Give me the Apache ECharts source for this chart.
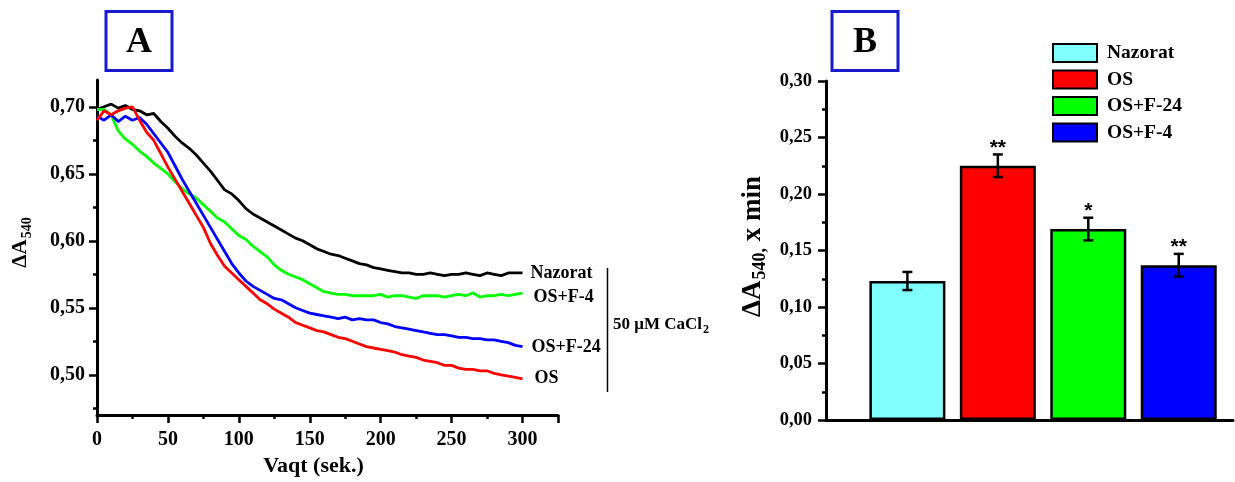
<!DOCTYPE html>
<html>
<head>
<meta charset="utf-8">
<script src="https://cdn.jsdelivr.net/npm/echarts@6/dist/echarts.min.js"></script>
<style>
  html, body { margin: 0; padding: 0; background: #fff; }
  #chart { width: 1235px; height: 482px; }
</style>
</head>
<body>
<div id="chart"></div>
<script>
// --- A panel: kinetika (vaqt, sek.) ---
const vaqt = [0, 5, 10, 15, 20, 25, 30, 35, 40, 45, 50, 55, 60, 65, 70, 75, 80, 85, 90, 95,
  100, 105, 110, 115, 120, 125, 130, 135, 140, 145, 150, 155, 160, 165, 170, 175, 180, 185, 190, 195,
  200, 205, 210, 215, 220, 225, 230, 235, 240, 245, 250, 255, 260, 265, 270, 275, 280, 285, 290, 295, 300]

const nazorat = [0.698, 0.700, 0.702, 0.699, 0.701, 0.698, 0.697, 0.694, 0.695, 0.689, 0.684, 0.678, 0.673, 0.669, 0.664, 0.658, 0.652, 0.645, 0.638, 0.635,
  0.630, 0.624, 0.620, 0.617, 0.614, 0.611, 0.608, 0.605, 0.602, 0.600, 0.597, 0.594, 0.592, 0.590, 0.589, 0.587, 0.585, 0.583, 0.582, 0.580,
  0.579, 0.578, 0.577, 0.576, 0.576, 0.575, 0.575, 0.576, 0.575, 0.574, 0.575, 0.575, 0.576, 0.575, 0.574, 0.576, 0.575, 0.574, 0.576, 0.576, 0.576]

const osA = [0.690, 0.697, 0.694, 0.697, 0.699, 0.700, 0.690, 0.681, 0.675, 0.665, 0.655, 0.646, 0.637, 0.628, 0.619, 0.610, 0.598, 0.589, 0.581, 0.576,
  0.571, 0.566, 0.561, 0.556, 0.553, 0.549, 0.546, 0.543, 0.539, 0.537, 0.535, 0.533, 0.532, 0.530, 0.528, 0.527, 0.525, 0.523, 0.521, 0.520,
  0.519, 0.518, 0.517, 0.515, 0.514, 0.513, 0.511, 0.510, 0.509, 0.507, 0.507, 0.505, 0.504, 0.504, 0.503, 0.503, 0.501, 0.500, 0.499, 0.498, 0.497]

const osF24 = [0.693, 0.690, 0.694, 0.689, 0.693, 0.690, 0.692, 0.687, 0.680, 0.673, 0.666, 0.656, 0.646, 0.637, 0.628, 0.619, 0.610, 0.601, 0.592, 0.583,
  0.576, 0.570, 0.566, 0.563, 0.560, 0.557, 0.556, 0.553, 0.550, 0.548, 0.546, 0.545, 0.544, 0.543, 0.542, 0.543, 0.541, 0.542, 0.541, 0.541,
  0.539, 0.538, 0.536, 0.535, 0.534, 0.533, 0.532, 0.531, 0.530, 0.530, 0.529, 0.528, 0.528, 0.527, 0.527, 0.526, 0.526, 0.525, 0.524, 0.522, 0.521]

const osF4 = [0.698, 0.698, 0.694, 0.682, 0.676, 0.672, 0.667, 0.663, 0.658, 0.654, 0.650, 0.644, 0.639, 0.635, 0.632, 0.627, 0.622, 0.617, 0.614, 0.609,
  0.604, 0.601, 0.596, 0.592, 0.588, 0.582, 0.578, 0.575, 0.573, 0.571, 0.568, 0.565, 0.562, 0.561, 0.560, 0.560, 0.559, 0.559, 0.559, 0.559,
  0.560, 0.558, 0.559, 0.559, 0.558, 0.557, 0.559, 0.559, 0.559, 0.558, 0.559, 0.560, 0.559, 0.561, 0.558, 0.559, 0.559, 0.560, 0.559, 0.560, 0.561]

const yTicksA = [0.50, 0.55, 0.60, 0.65, 0.70]

// --- B panel: ΔA540, x min ---
const guruhlar = ['Nazorat', 'OS', 'OS+F-24', 'OS+F-4']
const barPos = [1, 2, 3, 4]
const barValues = [0.123, 0.225, 0.169, 0.137]
const barErrors = [0.008, 0.010, 0.010, 0.010]
const barStars = ['', '**', '*', '**']
const barColors = ['#80ffff', '#ff0000', '#00ff00', '#0000ff']

const SERIF = 'Liberation Serif'
const comma = v => v.toFixed(2).replace('.', ',')
const pairs = arr => vaqt.map((t, i) => [t, arr[i]])

// egri chiziqlar
const lineDefs = [
  { name: 'A Nazorat', label: 'Nazorat', data: nazorat, color: '#000000', off: [0, 0] },
  { name: 'A OS+F-4', label: 'OS+F-4', data: osF4, color: '#00ff00', off: [3, 4] },
  { name: 'A OS+F-24', label: 'OS+F-24', data: osF24, color: '#0000ff', off: [1, 1] },
  { name: 'A OS', label: 'OS', data: osA, color: '#ff0000', off: [4, 0] }
]

const lineSeries = lineDefs.map(d => ({
  name: d.name,
  type: 'line',
  xAxisIndex: 0,
  yAxisIndex: 0,
  data: pairs(d.data),
  showSymbol: false,
  lineStyle: { color: d.color, width: 2.8 },
  itemStyle: { color: d.color },
  endLabel: {
    show: true,
    formatter: d.label,
    offset: d.off,
    color: '#000',
    fontFamily: SERIF,
    fontWeight: 'bold',
    fontSize: 18
  }
}))

const barSeries = guruhlar.map((g, i) => ({
  name: g,
  type: 'bar',
  xAxisIndex: 1,
  yAxisIndex: 1,
  barWidth: 76,
  barGap: '-100%',
  data: [[barPos[i], barValues[i]]],
  itemStyle: { color: barColors[i], borderColor: '#000', borderWidth: 2.5 }
}))

const errorSeries = {
  type: 'custom',
  xAxisIndex: 1,
  yAxisIndex: 1,
  data: barPos.map((p, i) => [p, barValues[i], barErrors[i]]),
  renderItem: (params, api) => {
    const x = api.value(0), v = api.value(1), e = api.value(2)
    const top = api.coord([x, v + e])
    const bot = api.coord([x, v - e])
    const st = { stroke: '#000', lineWidth: 2.5 }
    return {
      type: 'group',
      children: [
        { type: 'line', shape: { x1: top[0], y1: top[1], x2: bot[0], y2: bot[1] }, style: st },
        { type: 'line', shape: { x1: top[0] - 5, y1: top[1], x2: top[0] + 5, y2: top[1] }, style: st },
        { type: 'line', shape: { x1: bot[0] - 5, y1: bot[1], x2: bot[0] + 5, y2: bot[1] }, style: st },
        {
          type: 'text', x: top[0], y: top[1] + 4,
          style: {
            text: barStars[params.dataIndex], textAlign: 'center', textVerticalAlign: 'bottom',
            font: 'bold 21px "Liberation Sans"', fill: '#000'
          }
        }
      ]
    }
  },
  z: 5
}

const axisLine = { show: true, lineStyle: { color: '#000', width: 3 } }
const tickStyle = { color: '#000', width: 2.5 }
const labelStyle = { color: '#000', fontFamily: SERIF, fontWeight: 'bold', fontSize: 20 }

const chart = echarts.init(document.getElementById('chart'))
chart.setOption({
  animation: false,
  backgroundColor: '#fff',
  grid: [
    { left: 97, top: 80, right: 677, bottom: 67, outerBoundsMode: 'none', containLabel: false },
    { left: 826, top: 81, right: 2, bottom: 62, outerBoundsMode: 'none', containLabel: false }
  ],
  xAxis: [
    {
      gridIndex: 0, type: 'value', min: 0, max: 325, interval: 50,
      axisLine,
      axisTick: { show: true, length: 8, lineStyle: tickStyle },
      minorTick: { show: true, splitNumber: 2, length: 4, lineStyle: tickStyle },
      splitLine: { show: false },
      axisLabel: { ...labelStyle, margin: 15, showMaxLabel: false },
      name: 'Vaqt (sek.)', nameLocation: 'middle', nameGap: 40,
      nameTextStyle: { color: '#000', fontFamily: SERIF, fontWeight: 'bold', fontSize: 22, padding: [0, 28, 0, 0] }
    },
    {
      gridIndex: 1, type: 'value', min: 0.1, max: 4.6,
      axisLine,
      axisTick: { show: false },
      axisLabel: { show: false },
      splitLine: { show: false }
    }
  ],
  yAxis: [
    {
      gridIndex: 0, type: 'value', min: 0.47, max: 0.72, splitNumber: 5,
      axisLine,
      axisTick: { show: true, length: 8, lineStyle: tickStyle, customValues: yTicksA },
      minorTick: { show: true, splitNumber: 2, length: 4, lineStyle: tickStyle },
      splitLine: { show: false },
      axisLabel: { ...labelStyle, margin: 12, customValues: yTicksA, formatter: comma },
      name: '{d|ΔA}{s|540}', nameLocation: 'middle', nameRotate: 90, nameGap: 63,
      nameTextStyle: {
        padding: [0, 0, 0, 10],
        rich: {
          d: { fontFamily: SERIF, fontWeight: 'bold', fontSize: 21, color: '#000' },
          s: { fontFamily: SERIF, fontWeight: 'bold', fontSize: 14, color: '#000', padding: [13, 0, 0, 1] }
        }
      }
    },
    {
      gridIndex: 1, type: 'value', min: 0, max: 0.30, interval: 0.05,
      axisLine,
      axisTick: { show: true, length: 8, lineStyle: tickStyle },
      minorTick: { show: true, splitNumber: 2, length: 4, lineStyle: tickStyle },
      splitLine: { show: false },
      axisLabel: { ...labelStyle, fontSize: 18.5, margin: 14, formatter: comma },
      name: '{d|ΔA}{s|540,}{d| x min}', nameLocation: 'middle', nameRotate: 90, nameGap: 57,
      nameTextStyle: {
        padding: [0, 0, 0, 8],
        rich: {
          d: { fontFamily: SERIF, fontWeight: 'bold', fontSize: 27, color: '#000' },
          s: { fontFamily: SERIF, fontWeight: 'bold', fontSize: 18, color: '#000', padding: [14, 0, 0, 1] }
        }
      }
    }
  ],
  legend: {
    data: guruhlar,
    orient: 'vertical',
    left: 1052,
    top: 43,
    padding: 0,
    itemWidth: 44,
    itemHeight: 18,
    itemGap: 6.5,
    icon: 'rect',
    itemStyle: { borderColor: '#000', borderWidth: 2 },
    textStyle: { color: '#000', fontFamily: SERIF, fontWeight: 'bold', fontSize: 19.5, padding: [0, 0, 0, 5] },
    selectedMode: false
  },
  graphic: [
    { type: 'rect', shape: { x: 106, y: 11.5, width: 66, height: 59 }, style: { fill: '#fff', stroke: '#1a1acd', lineWidth: 3 } },
    { type: 'text', x: 139, y: 43, style: { text: 'A', textAlign: 'center', textVerticalAlign: 'middle', font: 'bold 36px "Liberation Serif"', fill: '#000' } },
    { type: 'rect', shape: { x: 832, y: 11.5, width: 66, height: 59 }, style: { fill: '#fff', stroke: '#1a1acd', lineWidth: 3 } },
    { type: 'text', x: 865, y: 43, style: { text: 'B', textAlign: 'center', textVerticalAlign: 'middle', font: 'bold 36px "Liberation Serif"', fill: '#000' } },
    { type: 'line', shape: { x1: 607.5, y1: 268, x2: 607.5, y2: 392 }, style: { stroke: '#000', lineWidth: 1.5 } },
    {
      type: 'text', x: 613, y: 325,
      style: {
        text: '{t|50 μM CaCl}{s|2}', textVerticalAlign: 'middle',
        rich: {
          t: { fontFamily: SERIF, fontWeight: 'bold', fontSize: 17, fill: '#000' },
          s: { fontFamily: SERIF, fontWeight: 'bold', fontSize: 12, fill: '#000', padding: [9, 0, 0, 1] }
        }
      }
    }
  ],
  series: [...lineSeries, ...barSeries, errorSeries]
})
</script>
</body>
</html>
